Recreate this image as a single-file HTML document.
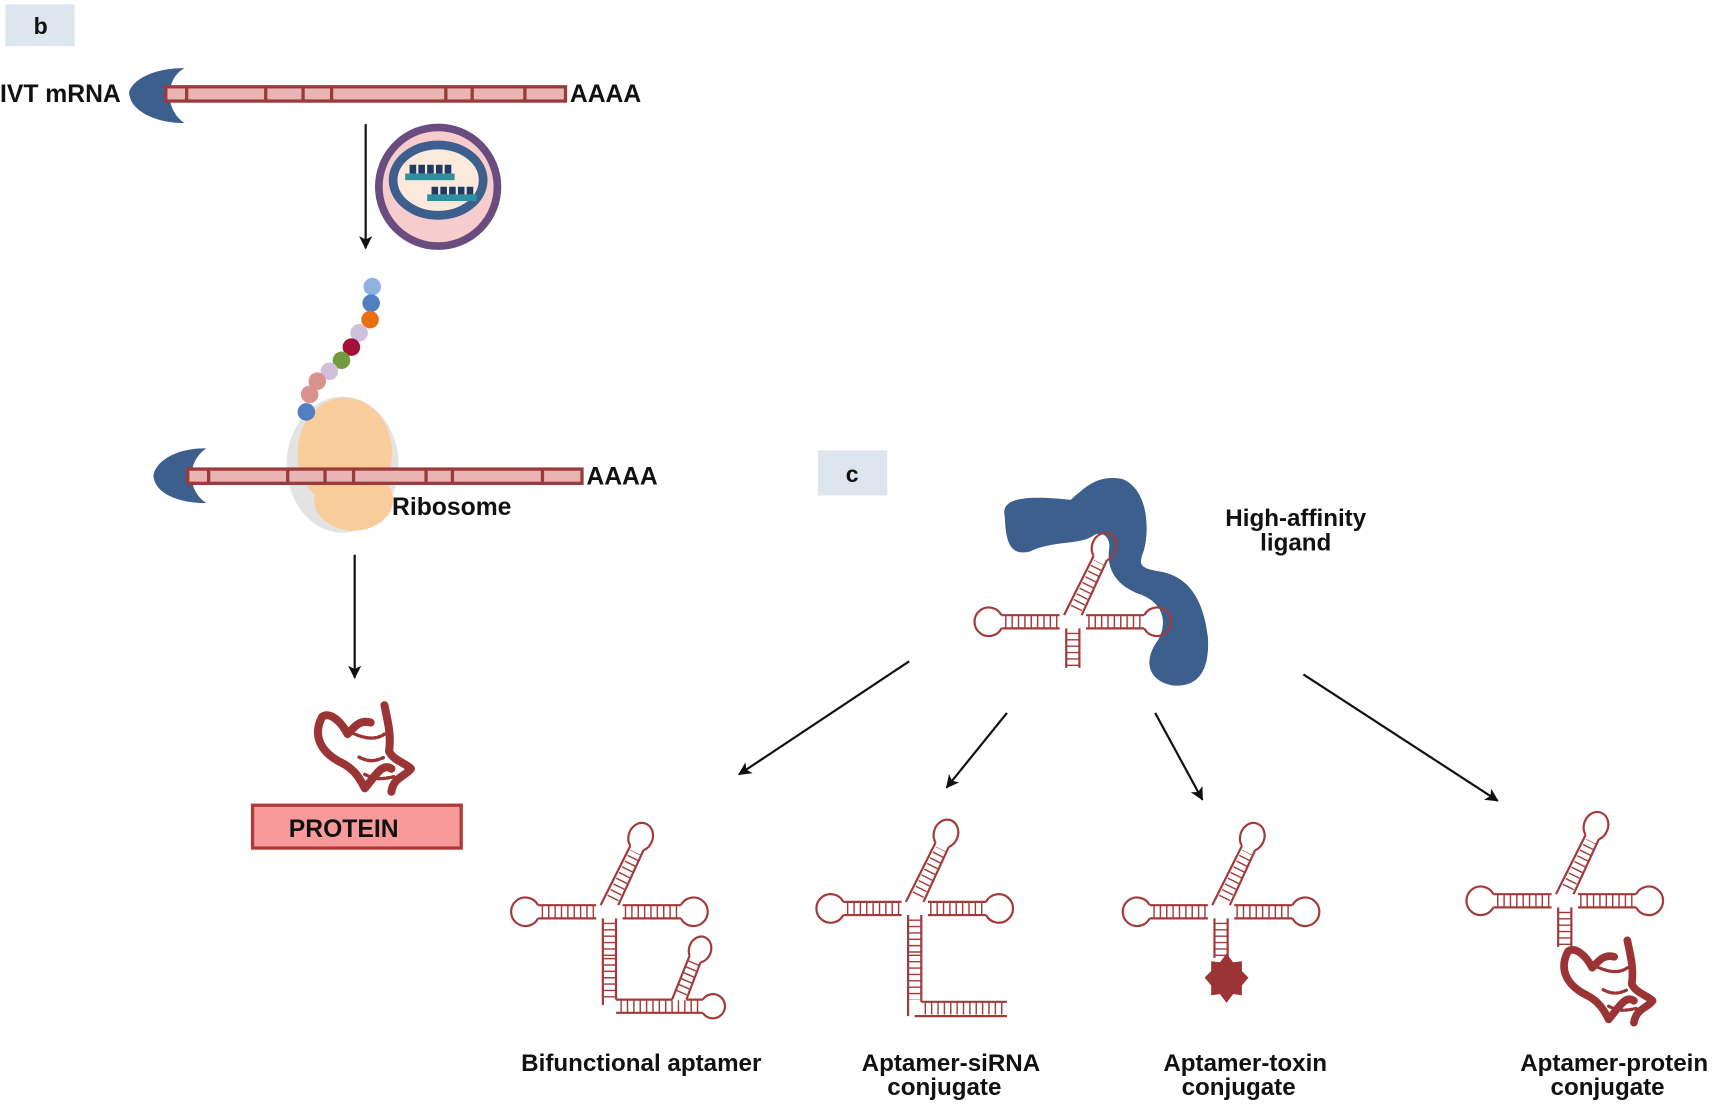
<!DOCTYPE html>
<html><head><meta charset="utf-8"><style>
html,body{margin:0;padding:0;background:#fff}
svg{display:block}
text{font-family:"Liberation Sans",sans-serif;font-weight:bold;fill:#111}
</style></head><body>
<svg width="1713" height="1104" viewBox="0 0 1560 1005" preserveAspectRatio="none" xmlns="http://www.w3.org/2000/svg">
<defs>
<marker id="ah" markerWidth="12" markerHeight="12" refX="11" refY="6" orient="auto" markerUnits="userSpaceOnUse" viewBox="0 0 12 12">
<path d="M0,0 L12,6 L0,12 L3,6Z" fill="#111"/></marker>
<g id="apt" fill="none" stroke="#a33a3a" stroke-width="2">
<path d="M-12,-6 H-65 M-12,6 H-65"/>
<line x1="-14" y1="0" x2="-64" y2="0" stroke-width="11" stroke-dasharray="1.3 4.5"/>
<path d="M-65,-6 A13,13 0 1 0 -65,6"/>
<path d="M12,-6 H65 M12,6 H65"/>
<line x1="14" y1="0" x2="64" y2="0" stroke-width="11" stroke-dasharray="1.3 4.5"/>
<path d="M65,-6 A13,13 0 1 1 65,6"/>
<path d="M-8,-6 L19,-60 M8,-6 L31,-56"/>
<line x1="3" y1="-12" x2="24" y2="-54" stroke-width="11" stroke-dasharray="1.3 4.5"/>
<path d="M19,-60 A11,13 20 1 1 31,-56"/>
<path d="M-6,6 V42 M6,6 V42"/>
<line x1="0" y1="10" x2="0" y2="42" stroke-width="11" stroke-dasharray="1.3 4.5"/>
</g>
<g id="prot" fill="none" stroke="#9b3535" stroke-width="7" stroke-linejoin="round" stroke-linecap="round">
<path d="M8,10 C0,25 5,40 25,50 C35,55 40,62 45,72 M8,10 C15,5 25,15 30,25 C35,20 40,12 50,15 M45,72 C55,60 60,50 68,55 M62,0 C65,15 68,25 66,40 C70,48 80,50 85,55 C80,62 70,62 68,75"/>
<path d="M30,22 C45,30 55,30 62,25 M40,45 C50,50 55,48 62,45 M45,60 C55,65 60,64 70,62" stroke-width="3" stroke-dasharray="2 2"/>
</g>
</defs>

<rect x="5" y="4" width="63" height="38" fill="#dde5ef"/>
<text x="37" y="31" font-size="21" text-anchor="middle">b</text>
<text x="0" y="93" font-size="22.5">IVT mRNA</text>
<path d="M168,62 C130,62 115,80 118,87 C120,100 140,112 168,112 C150,100 150,72 168,62Z" fill="#3c5f8e"/>
<rect x="151" y="79" width="364" height="13" fill="#e8b4b4" stroke="#9b3a3a" stroke-width="3"/>
<g stroke="#9b3a3a" stroke-width="3"><path d="M170,79V92M242,79V92M276,79V92M302,79V92M406,79V92M430,79V92M478,79V92"/></g>
<text x="519" y="93" font-size="22.5">AAAA</text>
<line x1="333" y1="113" x2="333" y2="226" stroke="#111" stroke-width="2" marker-end="url(#ah)"/>
<ellipse cx="399" cy="170" rx="54" ry="54" fill="#f7cccc" stroke="#6a4c7f" stroke-width="7"/>
<ellipse cx="399" cy="164" rx="41" ry="32" fill="#fbeadb" stroke="#3c5f8e" stroke-width="8"/>
<g fill="#1f3a63"><rect x="373" y="150" width="6" height="8"/><rect x="381" y="150" width="6" height="8"/><rect x="389" y="150" width="6" height="8"/><rect x="397" y="150" width="6" height="8"/><rect x="405" y="150" width="6" height="8"/>
<rect x="393" y="170" width="6" height="7"/><rect x="401" y="170" width="6" height="7"/><rect x="409" y="170" width="6" height="7"/><rect x="417" y="170" width="6" height="7"/><rect x="425" y="170" width="6" height="7"/></g>
<rect x="369" y="158" width="45" height="6" fill="#2f8ea0"/><rect x="389" y="177" width="45" height="6" fill="#2f8ea0"/>
<ellipse cx="312" cy="423" rx="51" ry="62" fill="#e3e3e3"/>
<ellipse cx="314" cy="412" rx="43" ry="50" fill="#f9cc9c"/>
<ellipse cx="322" cy="455" rx="36" ry="28" fill="#f9cc9c"/>
<g><circle cx="339" cy="261" r="8" fill="#8fb3e0"/><circle cx="338" cy="276" r="8" fill="#4f7fc0"/><circle cx="337" cy="291" r="8" fill="#e8700e"/><circle cx="327" cy="303" r="8" fill="#cfc0dc"/><circle cx="320" cy="316" r="8" fill="#a3103a"/><circle cx="311" cy="328" r="8" fill="#739a3e"/><circle cx="300" cy="338" r="8" fill="#d0c0da"/><circle cx="289" cy="347" r="8" fill="#d9938f"/><circle cx="282" cy="359" r="8" fill="#d9938f"/><circle cx="279" cy="375" r="8" fill="#4f7fc0"/></g>
<path d="M188,408 C150,408 138,428 140,435 C142,448 160,458 188,458 C170,446 170,420 188,408Z" fill="#3c5f8e"/>
<rect x="171" y="427" width="359" height="13" fill="#e8b4b4" stroke="#9b3a3a" stroke-width="3"/>
<g stroke="#9b3a3a" stroke-width="3"><path d="M190,427V440M262,427V440M296,427V440M322,427V440M388,427V440M412,427V440M494,427V440"/></g>
<text x="534" y="441" font-size="22.5">AAAA</text>
<text x="357" y="469" font-size="22.5">Ribosome</text>
<line x1="323" y1="505" x2="323" y2="617" stroke="#111" stroke-width="2" marker-end="url(#ah)"/>
<use href="#prot" transform="translate(285,642) scale(1.05)"/>
<rect x="230" y="733" width="190" height="39" fill="#f99a9a" stroke="#b03a3a" stroke-width="3"/>
<text x="313" y="762" font-size="22.5" text-anchor="middle">PROTEIN</text>

<rect x="745" y="410" width="63" height="41" fill="#dde5ef"/>
<text x="776" y="439" font-size="21" text-anchor="middle">c</text>
<path d="M915,470 C910,450 945,452 975,455 C990,442 1000,432 1022,436 C1045,445 1047,480 1042,500 C1038,512 1035,517 1055,520 C1082,524 1096,545 1100,580 C1102,612 1090,626 1068,624 C1046,620 1040,602 1055,582 C1064,565 1058,548 1038,541 C1014,532 1008,516 1010,500 C1012,490 1004,482 995,488 C983,496 958,492 938,502 C918,507 916,490 915,470Z" fill="#3c5f8e"/>
<use href="#apt" transform="translate(977,566)"/>
<text x="1180" y="479" font-size="22" text-anchor="middle">High-affinity</text>
<text x="1180" y="501" font-size="22" text-anchor="middle">ligand</text>
<g stroke="#111" stroke-width="2"><line x1="828" y1="602" x2="673" y2="705" marker-end="url(#ah)"/><line x1="917" y1="649" x2="862" y2="717" marker-end="url(#ah)"/><line x1="1052" y1="649" x2="1095" y2="728" marker-end="url(#ah)"/><line x1="1187" y1="614" x2="1364" y2="729" marker-end="url(#ah)"/></g>

<use href="#apt" transform="translate(555,830)"/>
<g fill="none" stroke="#a33a3a" stroke-width="2">
<path d="M549,872 V915 M561,872 V910"/><line x1="555" y1="872" x2="555" y2="912" stroke-width="11" stroke-dasharray="1.3 4.5"/>
<path d="M561,910 H612 M561,922 H640 M625,910 H640"/>
<line x1="565" y1="916" x2="640" y2="916" stroke-width="11" stroke-dasharray="1.3 4.5"/>
<path d="M640,910 A11,11 0 1 1 640,922"/>
<path d="M612,910 L628,870 M625,910 L638,876"/><line x1="620" y1="904" x2="632" y2="876" stroke-width="11" stroke-dasharray="1.3 4.5"/>
<path d="M628,870 A10,12 20 1 1 638,876"/>
</g>
<use href="#apt" transform="translate(833,827)"/>
<g fill="none" stroke="#a33a3a" stroke-width="2">
<path d="M827,869 V925 M839,869 V912 M839,912 H917 M833,925 H917"/>
<line x1="833" y1="869" x2="833" y2="910" stroke-width="11" stroke-dasharray="1.3 4.5"/>
<line x1="842" y1="918" x2="917" y2="918" stroke-width="11" stroke-dasharray="1.3 4.5"/>
</g>
<use href="#apt" transform="translate(1112,830)"/>
<polygon points="1117,868 1123,876 1131,875 1131,884 1137,890 1131,897 1131,906 1123,905 1117,913 1111,905 1103,906 1103,897 1097,890 1103,884 1103,875 1111,876" fill="#9b3535"/>
<use href="#apt" transform="translate(1425,820)"/>
<use href="#prot" transform="translate(1420,856) scale(1.0)"/>

<g font-size="22" text-anchor="middle">
<text x="584" y="975">Bifunctional aptamer</text>
<text x="866" y="975">Aptamer-siRNA</text><text x="860" y="997">conjugate</text>
<text x="1134" y="975">Aptamer-toxin</text><text x="1128" y="997">conjugate</text>
<text x="1470" y="975">Aptamer-protein</text><text x="1464" y="997">conjugate</text>
</g>
</svg>
</body></html>
